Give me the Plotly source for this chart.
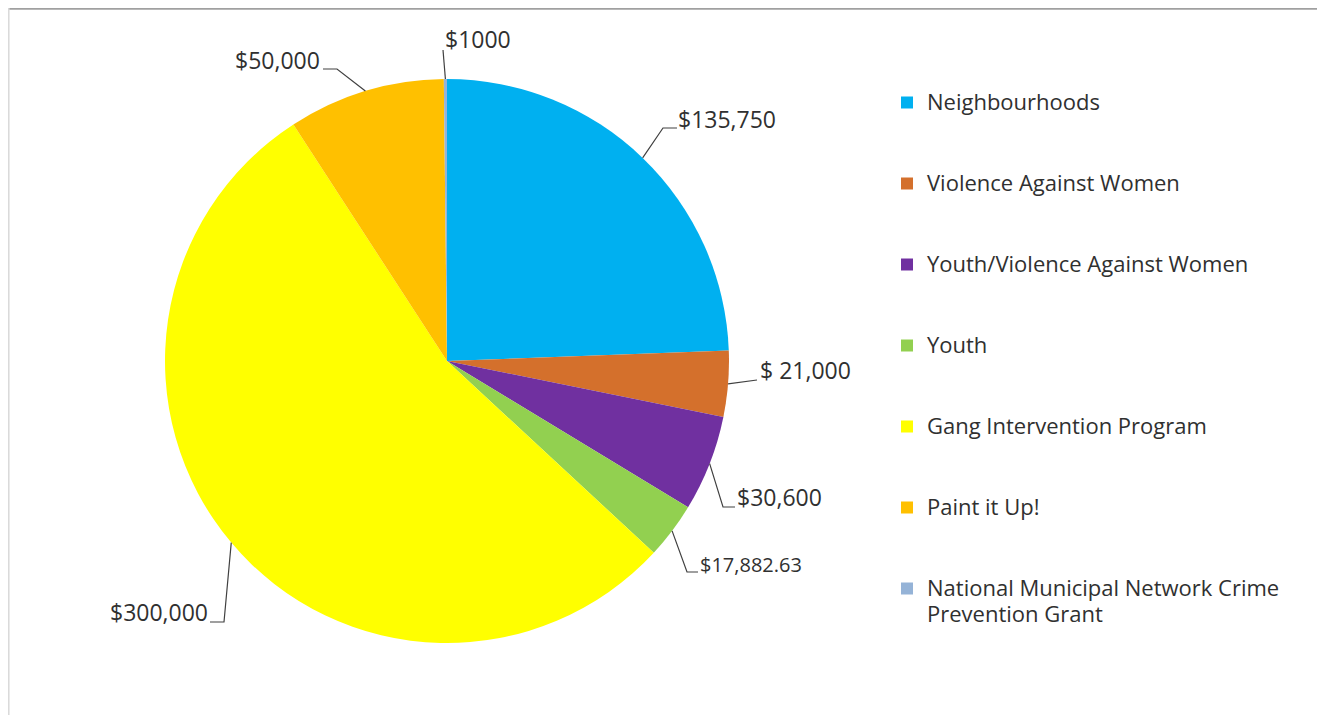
import math
import plotly.graph_objects as go

# ---------------- data ----------------
categories = [
    "Neighbourhoods",
    "Violence Against Women",
    "Youth/Violence Against Women",
    "Youth",
    "Gang Intervention Program",
    "Paint it Up!",
    "National Municipal Network Crime Prevention Grant",
]
values = [135750, 21000, 30600, 17882.63, 300000, 50000, 1000]
value_labels = ["$135,750", "$ 21,000", "$30,600", "$17,882.63", "$300,000", "$50,000", "$1000"]

# ---------------- style ----------------
colors = ["#00B0F0", "#D4702C", "#7030A0", "#92D050", "#FFFF00", "#FFC000", "#95B3D7"]
OFF = 8                          # page body margin
W, H = 1325 - OFF, 715 - OFF     # figure size
CX, CY, R = 447, 361, 282        # pie centre / radius (page px)
FONT = "Open Sans"
TXT = "#303030"
LBL_SIZE = 23
LEG_SIZE = 22
LEG_BASE = 20                    # base size controls legend row pitch

# legend labels padded with blank lines to reproduce the wide spacing
legend_labels = []
for c in categories:
    if c.startswith("National"):
        first, second = c.split(" Prevention")
        legend_labels.append(f"<span style='font-size:{LEG_SIZE}px'>{first}</span><br>"
                             f"<span style='font-size:{LEG_SIZE}px'>Prevention{second}</span>")
    else:
        legend_labels.append(f"<span style='font-size:{LEG_SIZE}px'>{c}</span><br>&nbsp;<br>&nbsp;")

# label placement (page px): elbow points, text position, anchor, font size
label_layout = [
    ([(663, 128), (677, 128)], 676, 119, "left", LBL_SIZE),
    ([(757, 380)], 758, 370, "left", LBL_SIZE),
    ([(723, 507), (735, 507)], 735, 497, "left", LBL_SIZE),
    ([(687, 572), (698, 572)], 698, 564, "left", 20),
    ([(224, 622), (210, 622)], 210, 612, "right", LBL_SIZE),
    ([(337, 69), (323, 69)], 322, 59.5, "right", LBL_SIZE),
    ([(443, 50)], 443, 39, "left", LBL_SIZE),
]


def px(x):
    return (x - OFF) / W


def py(y):
    return 1 - (y - OFF) / H


fig = go.Figure(
    go.Pie(
        labels=legend_labels,
        values=values,
        sort=False,
        direction="clockwise",
        rotation=0,
        marker=dict(colors=colors, line=dict(width=0)),
        textinfo="none",
        hovertext=value_labels,
        hoverinfo="text",
        domain=dict(x=[px(CX - R), px(CX + R)], y=[py(CY + R), py(CY - R)]),
    )
)

# leader lines and value labels, starting at the slice mid-angle on the rim
total = sum(values)
cum = 0.0
shapes = []
annotations = []
for v, lab, (elbows, tx, ty, anchor, size) in zip(values, value_labels, label_layout):
    mid = (cum + v / 2) / total * 2 * math.pi
    cum += v
    ex = CX + R * math.sin(mid)
    ey = CY - R * math.cos(mid)
    pts = [(ex, ey)] + elbows
    path = "M " + " L ".join(f"{px(x):.5f},{py(y):.5f}" for x, y in pts)
    shapes.append(dict(type="path", xref="paper", yref="paper", path=path,
                       line=dict(color="#404040", width=1.2)))
    annotations.append(dict(x=px(tx), y=py(ty), xref="paper", yref="paper",
                            text=lab, showarrow=False, xanchor=anchor, yanchor="middle",
                            font=dict(family=FONT, size=size, color=TXT)))

# chart frame edges
shapes.append(dict(type="line", xref="paper", yref="paper", x0=px(8), x1=1, y0=py(8.8), y1=py(8.8),
                   line=dict(color="#a0a0a0", width=2)))
shapes.append(dict(type="line", xref="paper", yref="paper", x0=px(8.8), x1=px(8.8), y0=py(8), y1=0,
                   line=dict(color="#d9d9d9", width=1.5)))

fig.update_layout(
    width=W,
    height=H,
    margin=dict(l=0, r=0, t=0, b=0),
    paper_bgcolor="white",
    plot_bgcolor="white",
    font=dict(family=FONT, color=TXT),
    showlegend=True,
    legend=dict(
        x=px(887), y=py(83), xanchor="left", yanchor="top",
        font=dict(family=FONT, size=LEG_BASE, color=TXT),
        valign="top",
        traceorder="normal",
        bgcolor="rgba(0,0,0,0)",
    ),
    shapes=shapes,
    annotations=annotations,
)

fig.write_html("out.html")
